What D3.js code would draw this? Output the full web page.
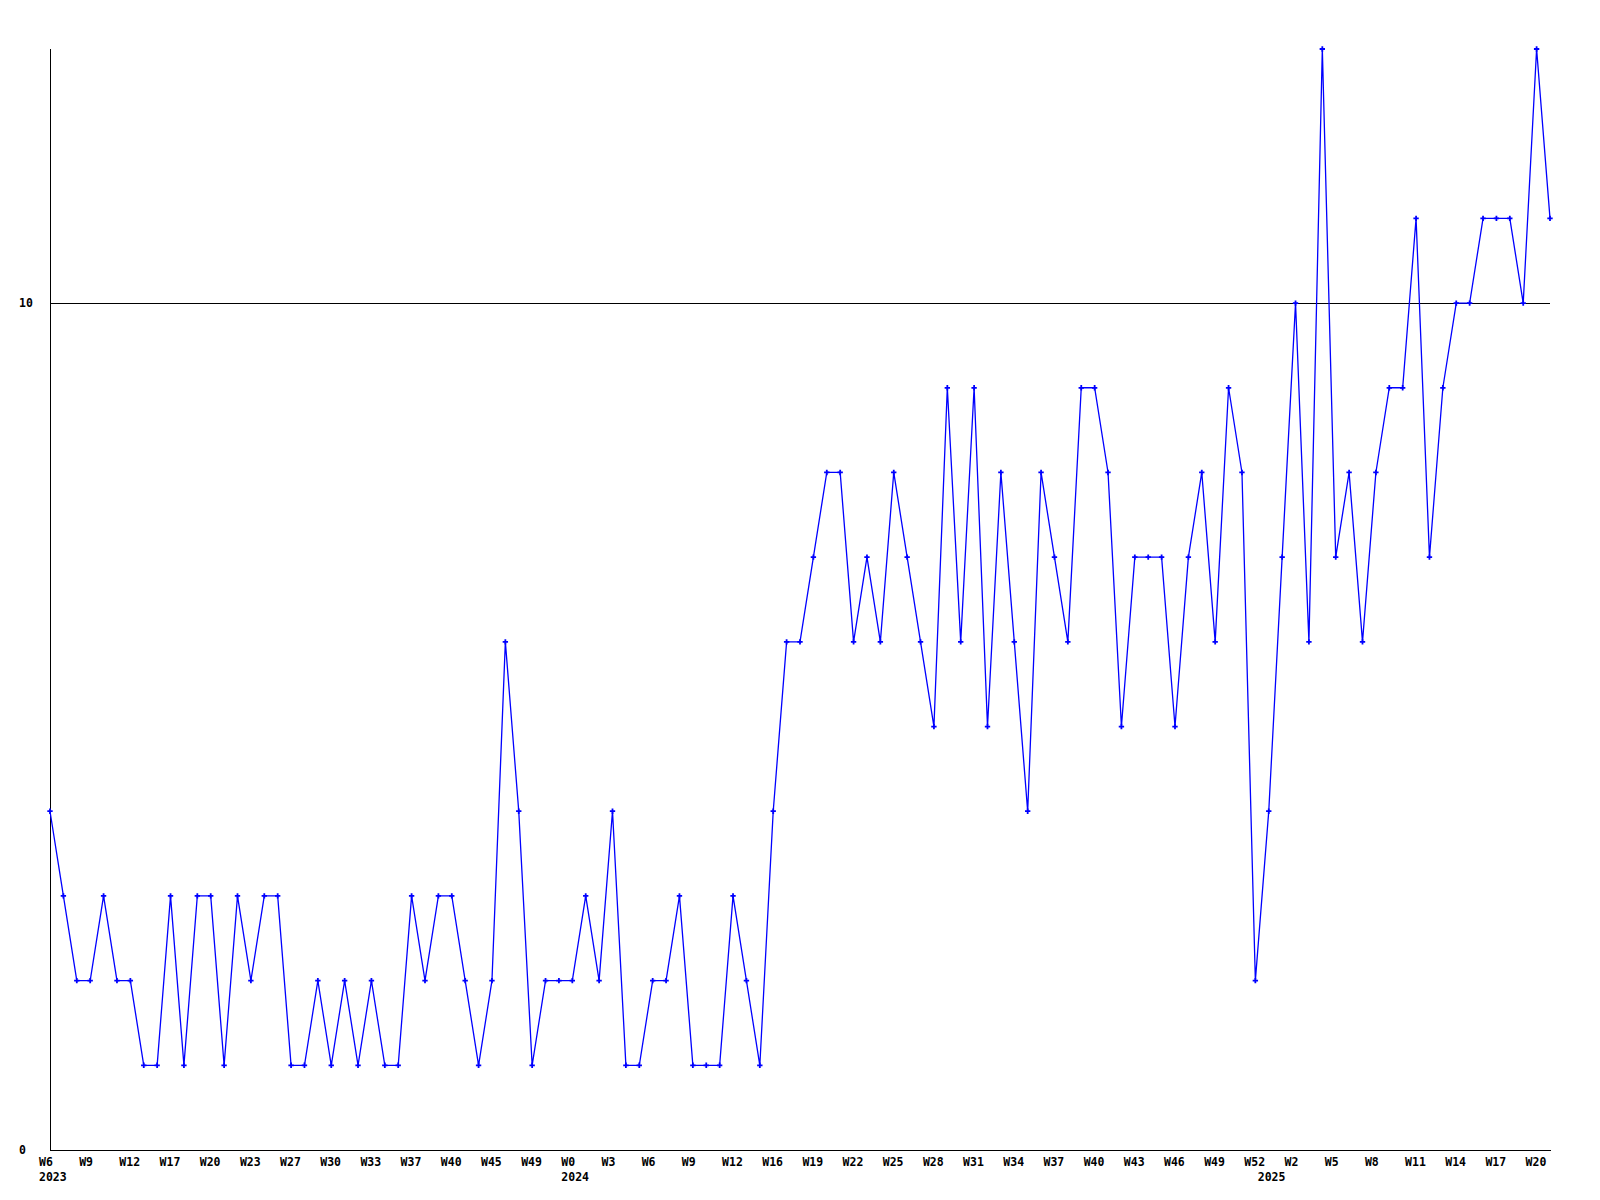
<!DOCTYPE html>
<html>
<head>
<meta charset="utf-8">
<script src="https://cdn.jsdelivr.net/npm/d3@7"></script>
<style>
  html, body { margin: 0; padding: 0; background: #fff; }
  text { font-family: "DejaVu Sans Mono", "Liberation Mono", monospace; font-weight: bold; font-size: 11.5px; fill: #000; }
</style>
</head>
<body>
<svg id="chart" width="1600" height="1200"></svg>
<script>
// weekly counts, W6 2023 .. W21 2025 (one value per week in the series)
const values = [
  4,3,2,2,3,2,2,1,1,3,1,3,3,1,3,2,3,3,1,1,2,1,2,1,2,1,1,3,2,3,3,2,1,2,6,4,1,2,2,2,
  3,2,4,1,1,2,2,3,1,1,1,3,2,1,4,6,6,7,8,8,6,7,6,8,7,6,5,9,6,9,5,8,6,4,8,7,6,9,9,8,
  5,7,7,7,5,7,8,6,9,8,2,4,7,10,6,13,7,8,6,8,9,9,11,7,9,10,10,11,11,11,10,13,11
];
// tick labels shown under every third week
const weekTickLabels = [
  "W6","W9","W12","W17","W20","W23","W27","W30","W33","W37","W40","W45","W49",
  "W0","W3","W6","W9","W12","W16","W19","W22","W25","W28","W31","W34","W37","W40","W43","W46","W49","W52",
  "W2","W5","W8","W11","W14","W17","W20"
];
const tickStep = 3;
const yearLabels = ["2023", "2024", "2025"];
const yearStartIndex = [0, 39, 91];
const yTicks = [0, 10];
const yMax = 13;

(function () {
const svg = d3.select("#chart");
const pLeft = 50, pRight = 1550, pTop = 49, pBottom = 1150;

const x = d3.scalePoint().domain(d3.range(values.length)).range([pLeft, pRight]);
const y = d3.scaleLinear().domain([0, yMax]).range([pBottom, pTop]);

// gridline at 10
svg.selectAll("line.grid").data(yTicks.filter(d => d > 0)).enter().append("line")
  .attr("x1", pLeft).attr("x2", pRight)
  .attr("y1", d => Math.round(y(d)) + 0.5).attr("y2", d => Math.round(y(d)) + 0.5)
  .attr("stroke", "#000").attr("stroke-width", 1).attr("shape-rendering", "crispEdges");

// axes lines
svg.append("line").attr("x1", pLeft + 0.5).attr("x2", pLeft + 0.5).attr("y1", pTop).attr("y2", pBottom + 0.5)
  .attr("stroke", "#000").attr("shape-rendering", "crispEdges");
svg.append("line").attr("x1", pLeft).attr("x2", pRight + 1).attr("y1", pBottom + 0.5).attr("y2", pBottom + 0.5)
  .attr("stroke", "#000").attr("shape-rendering", "crispEdges");

// y labels
svg.selectAll("text.ylab").data(yTicks).enter().append("text")
  .attr("x", 19).attr("y", d => y(d) + 4)
  .text(d => d);

// x week labels
svg.selectAll("text.wk").data(weekTickLabels).enter().append("text")
  .attr("x", (d, i) => x(i * tickStep) - 11)
  .attr("y", 1166)
  .text(d => d);

// year labels
svg.selectAll("text.yr").data(yearLabels).enter().append("text")
  .attr("x", (d, i) => x(yearStartIndex[i]) - 11)
  .attr("y", 1181)
  .text(d => d);

// line
const line = d3.line().x((d, i) => x(i)).y(d => y(d));
svg.append("path").datum(values)
  .attr("d", line).attr("fill", "none").attr("stroke", "#0000ff").attr("stroke-width", 1.3);

// markers
const sym = d3.symbol().type(d3.symbolCross).size(16);
svg.selectAll("path.pt").data(values).enter().append("path")
  .attr("transform", (d, i) => `translate(${x(i)},${y(d)})`)
  .attr("d", sym).attr("fill", "#0000ff");
})();
</script>
</body>
</html>
